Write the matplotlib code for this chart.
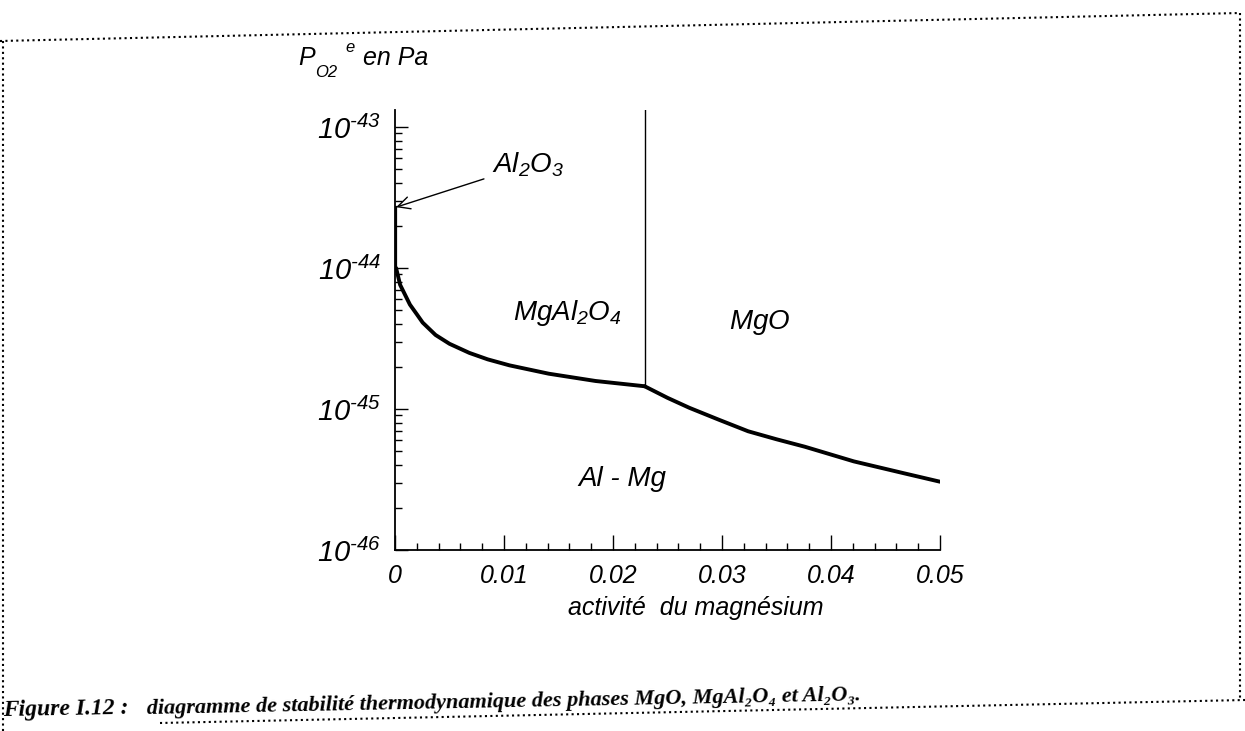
import matplotlib
matplotlib.use("Agg")
import matplotlib.pyplot as plt
from matplotlib.lines import Line2D
from matplotlib.ticker import MultipleLocator, LogLocator, FixedLocator, FixedFormatter, NullFormatter

# domaines de stabilite
front_spinelle_x = [0.0001, 0.00047, 0.00137, 0.0020, 0.00254, 0.00372, 0.0050, 0.00682, 0.0085,
                    0.0105, 0.0141, 0.0184, 0.0229]
front_spinelle_y = [1.0e-44, 7.6e-45, 5.5e-45, 4.7e-45, 4.1e-45, 3.35e-45, 2.9e-45, 2.5e-45, 2.25e-45,
                    2.04e-45, 1.78e-45, 1.58e-45, 1.45e-45]
front_mgo_x = [0.0229, 0.0250, 0.0270, 0.0297, 0.0324, 0.0350, 0.0376, 0.0421, 0.0467, 0.0500]
front_mgo_y = [1.45e-45, 1.2e-45, 1.02e-45, 8.4e-46, 6.95e-46, 6.1e-46, 5.4e-46, 4.25e-46, 3.5e-46, 3.05e-46]
front_vert_x = [0.0229, 0.0229]
front_vert_y = [1.45e-45, 1.32e-43]
front_al2o3_x = [0.00008, 0.00008]
front_al2o3_y = [1.0e-44, 2.7e-44]

xticks = [0, 0.01, 0.02, 0.03, 0.04, 0.05]
xtick_labels = ["0", "0.01", "0.02", "0.03", "0.04", "0.05"]
yticks = [1e-46, 1e-45, 1e-44, 1e-43]
ytick_labels = [r"$10^{\text{-46}}$", r"$10^{\text{-45}}$", r"$10^{\text{-44}}$", r"$10^{\text{-43}}$"]

plt.rcParams['font.family'] = ['Liberation Sans', 'DejaVu Sans']
plt.rcParams['font.style'] = 'italic'
plt.rcParams['mathtext.fontset'] = 'custom'
plt.rcParams['mathtext.rm'] = 'Liberation Sans:italic'
plt.rcParams['mathtext.it'] = 'Liberation Sans:italic'
plt.rcParams['mathtext.default'] = 'it'

W, H = 1245, 731


def fx(px):
    return px / W


def fy(py):
    return 1 - py / H


fig = plt.figure(figsize=(W / 100, H / 100), dpi=100)
ax = fig.add_axes([fx(395), fy(550), 545 / W, 440 / H])

ax.plot(front_spinelle_x, front_spinelle_y, color='black', lw=2.8,
        solid_capstyle='round', solid_joinstyle='round')
ax.plot(front_mgo_x, front_mgo_y, color='black', lw=2.8,
        solid_capstyle='round', solid_joinstyle='round')
ax.plot(front_vert_x, front_vert_y, color='black', lw=1.0)
ax.plot(front_al2o3_x, front_al2o3_y, color='black', lw=1.6)

ax.set_yscale('log')
ax.set_xlim(0, 0.05)
ax.set_ylim(1e-46, 1.32e-43)

ax.spines['right'].set_color('none')
ax.spines['top'].set_color('none')
ax.spines['left'].set_linewidth(1.3)
ax.spines['bottom'].set_linewidth(1.3)

ax.xaxis.set_major_locator(FixedLocator(xticks))
ax.xaxis.set_major_formatter(FixedFormatter(xtick_labels))
ax.xaxis.set_minor_locator(MultipleLocator(0.002))
ax.yaxis.set_major_locator(FixedLocator(yticks))
ax.yaxis.set_major_formatter(FixedFormatter(ytick_labels))
ax.yaxis.set_minor_locator(LogLocator(base=10, subs=range(2, 10)))
ax.yaxis.set_minor_formatter(NullFormatter())

ax.tick_params(axis='x', which='major', direction='in', length=11, width=1.0, labelsize=18, pad=10)
ax.tick_params(axis='x', which='minor', direction='in', length=5, width=1.0)
ax.tick_params(axis='y', which='major', direction='in', length=9, width=1.0, labelsize=21, pad=10)
ax.tick_params(axis='y', which='minor', direction='in', length=5, width=1.0)

# noms des phases
ax.text(0.0158, 4.8e-45, "$MgAl_2O_4$", fontsize=20, ha='center', va='center')
ax.text(0.0335, 4.1e-45, "$MgO$", fontsize=20, ha='center', va='center')
ax.text(0.0209, 3.2e-46, "Al - Mg", fontsize=20, ha='center', va='center')
ax.annotate("$Al_2O_3$", xy=(0.0001, 2.7e-44), xytext=(0.0089, 5.4e-44),
            fontsize=20, ha='left', va='center',
            arrowprops=dict(arrowstyle='->', color='black', lw=1.0,
                            shrinkA=4, shrinkB=0, mutation_scale=22))

# titres des axes
fig.text(fx(298), fy(65), "P", fontsize=18, va='baseline')
fig.text(fx(315), fy(77), "O2", fontsize=12, va='baseline')
fig.text(fx(345), fy(52), "e", fontsize=12, va='baseline')
fig.text(fx(363), fy(65), "en Pa", fontsize=18, va='baseline')
fig.text(fx(696), fy(615), "activité  du magnésium", fontsize=18, ha='center', va='baseline')

# cadre pointille
dots = dict(color='black', lw=1.5, ls=(0, (1, 1.6)))
fig.add_artist(Line2D([fx(0), fx(1240)], [fy(41), fy(13)], **dots))
fig.add_artist(Line2D([fx(3), fx(3)], [fy(41), fy(731)], **dots))
fig.add_artist(Line2D([fx(1240), fx(1240)], [fy(13), fy(700)], **dots))
fig.add_artist(Line2D([fx(160), fx(1245)], [fy(723), fy(700)], **dots))

serif = ['Liberation Serif', 'DejaVu Serif']
fig.text(fx(3), fy(716), "Figure I.12 :", fontsize=17, family=serif, weight='bold',
         style='italic', va='baseline', rotation=1.0, rotation_mode='anchor')
fig.text(fx(147), fy(714), "diagramme de stabilité thermodynamique des phases MgO, MgAl₂O₄ et Al₂O₃.",
         fontsize=16, family=serif, weight='bold', style='italic', va='baseline',
         rotation=1.1, rotation_mode='anchor')

fig.savefig("out.png", dpi=100)
